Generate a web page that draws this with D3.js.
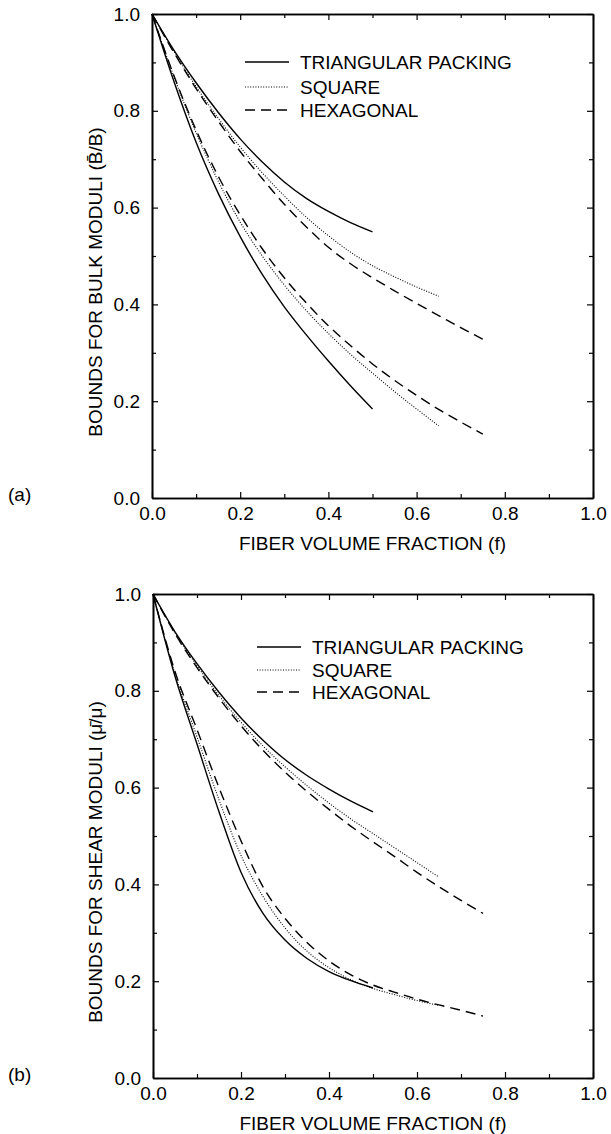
<!DOCTYPE html>
<html>
<head>
<meta charset="utf-8">
<script src="https://cdn.jsdelivr.net/npm/d3@7"></script>
<style>
  body { margin: 0; background: #fff; }
  svg { display: block; font-family: "Liberation Sans", Arial, Helvetica, sans-serif; }
</style>
</head>
<body>
<div id="chart"></div>
<script>
// fiber volume fraction samples (each packing stops at its own max fraction)
const fTri = [0, 0.05, 0.1, 0.15, 0.2, 0.25, 0.3, 0.35, 0.4, 0.45, 0.5];
const fSq  = [0, 0.05, 0.1, 0.15, 0.2, 0.25, 0.3, 0.35, 0.4, 0.45, 0.5, 0.55, 0.6, 0.65];
const fHex = [0, 0.05, 0.1, 0.15, 0.2, 0.25, 0.3, 0.35, 0.4, 0.45, 0.5, 0.55, 0.6, 0.65, 0.7, 0.75];

// (a) bounds for bulk moduli
const bulkUpTri = [1, 0.925, 0.858, 0.797, 0.742, 0.694, 0.653, 0.619, 0.592, 0.569, 0.55];
const bulkUpSq  = [1, 0.922, 0.85, 0.785, 0.725, 0.672, 0.624, 0.58, 0.542, 0.508, 0.48, 0.457, 0.436, 0.417];
const bulkUpHex = [1, 0.92, 0.846, 0.779, 0.716, 0.66, 0.607, 0.56, 0.518, 0.484, 0.455, 0.428, 0.402, 0.377, 0.352, 0.328];
const bulkLoTri = [1, 0.86, 0.735, 0.63, 0.54, 0.462, 0.395, 0.337, 0.283, 0.232, 0.184];
const bulkLoSq  = [1, 0.87, 0.755, 0.655, 0.57, 0.5, 0.44, 0.387, 0.34, 0.297, 0.258, 0.22, 0.184, 0.149];
const bulkLoHex = [1, 0.872, 0.76, 0.665, 0.585, 0.515, 0.455, 0.403, 0.356, 0.315, 0.277, 0.243, 0.212, 0.183, 0.157, 0.132];

// (b) bounds for shear moduli
const shearUpTri = [1, 0.922, 0.856, 0.797, 0.744, 0.698, 0.658, 0.625, 0.597, 0.572, 0.55];
const shearUpSq  = [1, 0.92, 0.852, 0.79, 0.735, 0.686, 0.643, 0.604, 0.568, 0.535, 0.505, 0.475, 0.445, 0.415];
const shearUpHex = [1, 0.918, 0.848, 0.785, 0.728, 0.677, 0.632, 0.592, 0.555, 0.52, 0.488, 0.457, 0.425, 0.395, 0.367, 0.34];
const shearLoTri = [1, 0.83, 0.69, 0.55, 0.425, 0.34, 0.285, 0.247, 0.22, 0.201, 0.186];
const shearLoSq  = [1, 0.835, 0.705, 0.575, 0.46, 0.375, 0.31, 0.262, 0.228, 0.203, 0.185, 0.172, 0.16, 0.15];
const shearLoHex = [1, 0.84, 0.72, 0.6, 0.49, 0.395, 0.33, 0.28, 0.242, 0.213, 0.192, 0.177, 0.163, 0.151, 0.14, 0.128];

const xMajor = [0, 0.2, 0.4, 0.6, 0.8, 1.0];
const xMinor = [0.1, 0.3, 0.5, 0.7, 0.9];
const yMajor = [0, 0.2, 0.4, 0.6, 0.8, 1.0];
const yMinor = [0.1, 0.3, 0.5, 0.7, 0.9];

const legendLabels = ['TRIANGULAR PACKING', 'SQUARE', 'HEXAGONAL'];
const xTitle = 'FIBER VOLUME FRACTION (f)';

const width = 611, height = 1134;

const svg = d3.select('#chart')
  .append('svg')
  .attr('width', width)
  .attr('height', height);

svg.append('rect').attr('width', width).attr('height', height).attr('fill', '#fff');

// line styles: solid / dotted / dashed
const styles = [
  { dash: null, w: 1.4 },
  { dash: '1,1.6', w: 1.1 },
  { dash: '10,6', w: 1.4 }
];

function drawPanel(opts) {
  const x = d3.scaleLinear().domain([0, 1]).range([opts.left, opts.right]);
  const y = d3.scaleLinear().domain([0, 1]).range([opts.bottom, opts.top]);
  const g = svg.append('g');
  const fmt = d3.format('.1f');

  // major + minor ticks on all four sides, pointing inward
  g.append('g')
    .attr('transform', `translate(0,${opts.bottom})`)
    .call(d3.axisBottom(x).tickValues(xMajor).tickFormat(fmt).tickSizeInner(-6).tickSizeOuter(0).tickPadding(9));
  g.append('g')
    .attr('transform', `translate(0,${opts.bottom})`)
    .call(d3.axisBottom(x).tickValues(xMinor).tickFormat('').tickSizeInner(-4).tickSizeOuter(0));
  g.append('g')
    .attr('transform', `translate(0,${opts.top})`)
    .call(d3.axisTop(x).tickValues(xMajor).tickFormat('').tickSizeInner(-6).tickSizeOuter(0));
  g.append('g')
    .attr('transform', `translate(0,${opts.top})`)
    .call(d3.axisTop(x).tickValues(xMinor).tickFormat('').tickSizeInner(-4).tickSizeOuter(0));
  g.append('g')
    .attr('transform', `translate(${opts.left},0)`)
    .call(d3.axisLeft(y).tickValues(yMajor).tickFormat(fmt).tickSizeInner(-6).tickSizeOuter(0).tickPadding(12));
  g.append('g')
    .attr('transform', `translate(${opts.left},0)`)
    .call(d3.axisLeft(y).tickValues(yMinor).tickFormat('').tickSizeInner(-4).tickSizeOuter(0));
  g.append('g')
    .attr('transform', `translate(${opts.right},0)`)
    .call(d3.axisRight(y).tickValues(yMajor).tickFormat('').tickSizeInner(-6).tickSizeOuter(0));
  g.append('g')
    .attr('transform', `translate(${opts.right},0)`)
    .call(d3.axisRight(y).tickValues(yMinor).tickFormat('').tickSizeInner(-4).tickSizeOuter(0));

  g.selectAll('.domain').attr('stroke', '#000').attr('stroke-width', 1.6);
  g.selectAll('.tick line').attr('stroke', '#000').attr('stroke-width', 1.2);
  g.selectAll('.tick text')
    .attr('fill', '#000')
    .style('font-size', '19px')
    .style('font-family', '"Liberation Sans", Arial, sans-serif');

  // curves
  const line = d3.line()
    .x(d => x(d[0]))
    .y(d => y(d[1]))
    .curve(d3.curveMonotoneX);

  opts.series.forEach(s => {
    const st = styles[s.style];
    g.append('path')
      .datum(s.f.map((f, i) => [f, s.v[i]]))
      .attr('fill', 'none')
      .attr('stroke', '#000')
      .attr('stroke-width', st.w)
      .attr('stroke-dasharray', st.dash)
      .attr('d', line);
  });

  // legend
  legendLabels.forEach((lab, i) => {
    const st = styles[i];
    const ly = opts.legendY[i];
    g.append('line')
      .attr('x1', opts.legendX).attr('x2', opts.legendX + 44)
      .attr('y1', ly).attr('y2', ly)
      .attr('stroke', '#000')
      .attr('stroke-width', st.w)
      .attr('stroke-dasharray', st.dash);
    g.append('text')
      .attr('x', opts.legendX + 55)
      .attr('y', ly)
      .attr('dy', '0.35em')
      .style('font-size', '19px')
      .text(lab);
  });

  // axis titles
  g.append('text')
    .attr('x', (opts.left + opts.right) / 2)
    .attr('y', opts.bottom + 45)
    .attr('dy', '0.35em')
    .attr('text-anchor', 'middle')
    .style('font-size', '19px')
    .text(xTitle);

  g.append('text')
    .attr('transform', `translate(95,${opts.titleY}) rotate(-90)`)
    .attr('dy', '0.35em')
    .attr('text-anchor', 'middle')
    .style('font-size', '19px')
    .text(opts.yTitle);

  g.append('text')
    .attr('x', 8)
    .attr('y', opts.bottom - 4)
    .attr('dy', '0.35em')
    .style('font-size', '19px')
    .text(opts.tag);
}

drawPanel({
  left: 152, right: 593, top: 14, bottom: 498,
  legendX: 245, legendY: [62, 87, 110],
  titleY: 282,
  yTitle: 'BOUNDS FOR BULK MODULI (B\u0304/B)',
  tag: '(a)',
  series: [
    { f: fTri, v: bulkUpTri, style: 0 },
    { f: fSq, v: bulkUpSq, style: 1 },
    { f: fHex, v: bulkUpHex, style: 2 },
    { f: fTri, v: bulkLoTri, style: 0 },
    { f: fSq, v: bulkLoSq, style: 1 },
    { f: fHex, v: bulkLoHex, style: 2 }
  ]
});

drawPanel({
  left: 153, right: 593, top: 594, bottom: 1078,
  legendX: 257, legendY: [647, 670, 692],
  titleY: 862,
  yTitle: 'BOUNDS FOR SHEAR MODULI (\u03BC\u0304/\u03BC)',
  tag: '(b)',
  series: [
    { f: fTri, v: shearUpTri, style: 0 },
    { f: fSq, v: shearUpSq, style: 1 },
    { f: fHex, v: shearUpHex, style: 2 },
    { f: fTri, v: shearLoTri, style: 0 },
    { f: fSq, v: shearLoSq, style: 1 },
    { f: fHex, v: shearLoHex, style: 2 }
  ]
});
</script>
</body>
</html>
